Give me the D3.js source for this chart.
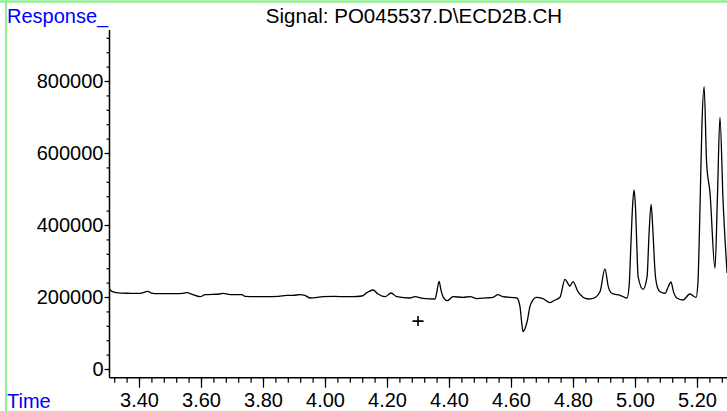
<!DOCTYPE html>
<html><head><meta charset="utf-8">
<script src="https://cdn.jsdelivr.net/npm/d3@7"></script>
<style>
body{margin:0;background:#fff}
svg{display:block}
text{font-family:"Liberation Sans",Arial,Helvetica,sans-serif}
</style>
</head><body>
<svg id="c" width="727" height="411"></svg>
<script>
// ---- data ----
const times = [3.303,3.316,3.340,3.371,3.403,3.429,3.440,3.461,3.500,3.542,3.555,3.570,3.597,3.613,3.661,3.671,3.694,3.732,3.742,3.806,3.850,3.877,3.897,3.919,3.935,3.952,3.994,4.030,4.071,4.090,4.119,4.135,4.155,4.171,4.194,4.213,4.232,4.274,4.290,4.316,4.355,4.361,4.368,4.374,4.381,4.394,4.413,4.445,4.468,4.490,4.520,4.542,4.558,4.574,4.619,4.629,4.635,4.639,4.645,4.652,4.661,4.671,4.681,4.703,4.726,4.742,4.758,4.774,4.790,4.800,4.816,4.848,4.865,4.887,4.903,4.914,4.926,4.952,4.974,4.981,4.987,4.992,4.997,5.002,5.006,5.010,5.026,5.039,5.045,5.052,5.058,5.065,5.073,5.081,5.097,5.108,5.116,5.124,5.135,5.155,5.177,5.197,5.203,5.210,5.216,5.223,5.231,5.242,5.258,5.266,5.274,5.284,5.297];
const responses = [224000,214000,211000,210300,210000,215800,211000,209200,209500,210300,212000,208000,200800,206400,208300,210300,206400,206400,201900,200800,202000,204700,204700,206400,204700,197200,200800,201500,200800,200800,202800,212000,219400,208300,200800,211100,200800,197200,200800,196400,194400,215000,243600,220000,200800,189700,200800,199200,200800,195300,197500,199200,206400,200800,197200,173100,125000,103600,112000,131400,173100,192000,199200,195300,184200,191700,199200,249200,230600,242500,214700,194400,196400,214700,278000,228000,209700,204700,197200,230000,350000,450000,497200,440000,340000,256400,221400,256400,370000,457500,380000,265800,225000,214700,210300,230000,241700,215000,197200,191700,208300,199200,240000,461100,680000,784200,572200,488900,279700,480000,699200,469400,266700];
const yTicks = [0,200000,400000,600000,800000];
const yMinorTicks = [0,40000,80000,120000,160000,200000,240000,280000,320000,360000,400000,440000,480000,520000,560000,600000,640000,680000,720000,760000,800000,840000,880000,920000];
const xTicks = [3.40,3.60,3.80,4.00,4.20,4.40,4.60,4.80,5.00,5.20];
const xMinorTicks = [3.32,3.36,3.40,3.44,3.48,3.52,3.56,3.60,3.64,3.68,3.72,3.76,3.80,3.84,3.88,3.92,3.96,4.00,4.04,4.08,4.12,4.16,4.20,4.24,4.28,4.32,4.36,4.40,4.44,4.48,4.52,4.56,4.60,4.64,4.68,4.72,4.76,4.80,4.84,4.88,4.92,4.96,5.00,5.04,5.08,5.12,5.16,5.20,5.24,5.28];
const marker = {time: 4.30, response: 133000};
const titleText = "Signal: PO045537.D\\ECD2B.CH";
const yLabel = "Response_";
const xLabel = "Time";

// ---- layout ----
const svg = d3.select("#c");
const pL = 109.5, pR = 727, pT = 30, pB = 377.7;
const x = d3.scaleLinear().domain([3.4, 5.2]).range([139, 697]);
const y = d3.scaleLinear().domain([0, 800000]).range([369, 81]);
const FS = "20px";

// green frame
svg.append("line").attr("x1",0).attr("x2",727).attr("y1",1.5).attr("y2",1.5)
  .attr("stroke","#90ee90").attr("stroke-width",2.5);
svg.append("line").attr("x1",6).attr("x2",6).attr("y1",0).attr("y2",411)
  .attr("stroke","#90ee90").attr("stroke-width",2);

// clip
svg.append("clipPath").attr("id","clip").append("rect")
  .attr("x",pL).attr("y",pT).attr("width",pR-pL).attr("height",pB-pT);

// trace
const data = times.map((t,i)=>({t, v: responses[i]}));
const line = d3.line().x(d=>x(d.t)).y(d=>y(d.v)).curve(d3.curveMonotoneX);
svg.append("path").datum(data).attr("clip-path","url(#clip)")
  .attr("d",line).attr("fill","none").attr("stroke","#000").attr("stroke-width",1.3)
  .attr("stroke-linejoin","round");

// y axis
const gyMinor = svg.append("g").attr("transform",`translate(${pL},0)`)
  .call(d3.axisLeft(y).tickValues(yMinorTicks).tickSize(3).tickFormat(""));
gyMinor.select(".domain").remove();
const gy = svg.append("g").attr("transform",`translate(${pL},0)`)
  .call(d3.axisLeft(y).tickValues(yTicks).tickSize(5).tickPadding(1).tickFormat(d3.format("d")));
gy.select(".domain").remove();
gy.selectAll("text").style("font-size",FS).attr("fill","#000");

// x axis
const gxMinor = svg.append("g").attr("transform",`translate(0,${pB})`)
  .call(d3.axisBottom(x).tickValues(xMinorTicks).tickSize(5).tickFormat(""));
gxMinor.select(".domain").remove();
const gx = svg.append("g").attr("transform",`translate(0,${pB})`)
  .call(d3.axisBottom(x).tickValues(xTicks).tickSize(10).tickFormat(d3.format(".2f")));
gx.select(".domain").remove();
gx.selectAll("text").style("font-size",FS).attr("fill","#000").attr("y",29.8).attr("dy",0);
svg.selectAll(".tick line").attr("stroke","#000").attr("stroke-width",1.2);

// axis lines
svg.append("line").attr("x1",pL).attr("x2",pL).attr("y1",pT).attr("y2",pB)
  .attr("stroke","#000").attr("stroke-width",1.5);
svg.append("line").attr("x1",pL).attr("x2",pR).attr("y1",pB).attr("y2",pB)
  .attr("stroke","#000").attr("stroke-width",1.5);

// marker
const mx = x(marker.time), my = y(marker.response);
svg.append("path").attr("d",`M${mx-5.5},${my}H${mx+5.5}M${mx},${my-5}V${my+5}`)
  .attr("stroke","#000").attr("stroke-width",1.6).attr("fill","none");

// texts
svg.append("text").attr("x",7).attr("y",22.5).text(yLabel)
  .style("font-size",FS).attr("fill","#0000ff");
svg.append("text").attr("x",7).attr("y",407.5).text(xLabel)
  .style("font-size",FS).attr("fill","#0000ff");
svg.append("text").attr("x",414).attr("y",23).attr("text-anchor","middle").text(titleText)
  .style("font-size","20.5px").attr("fill","#000");
</script>
</body></html>
